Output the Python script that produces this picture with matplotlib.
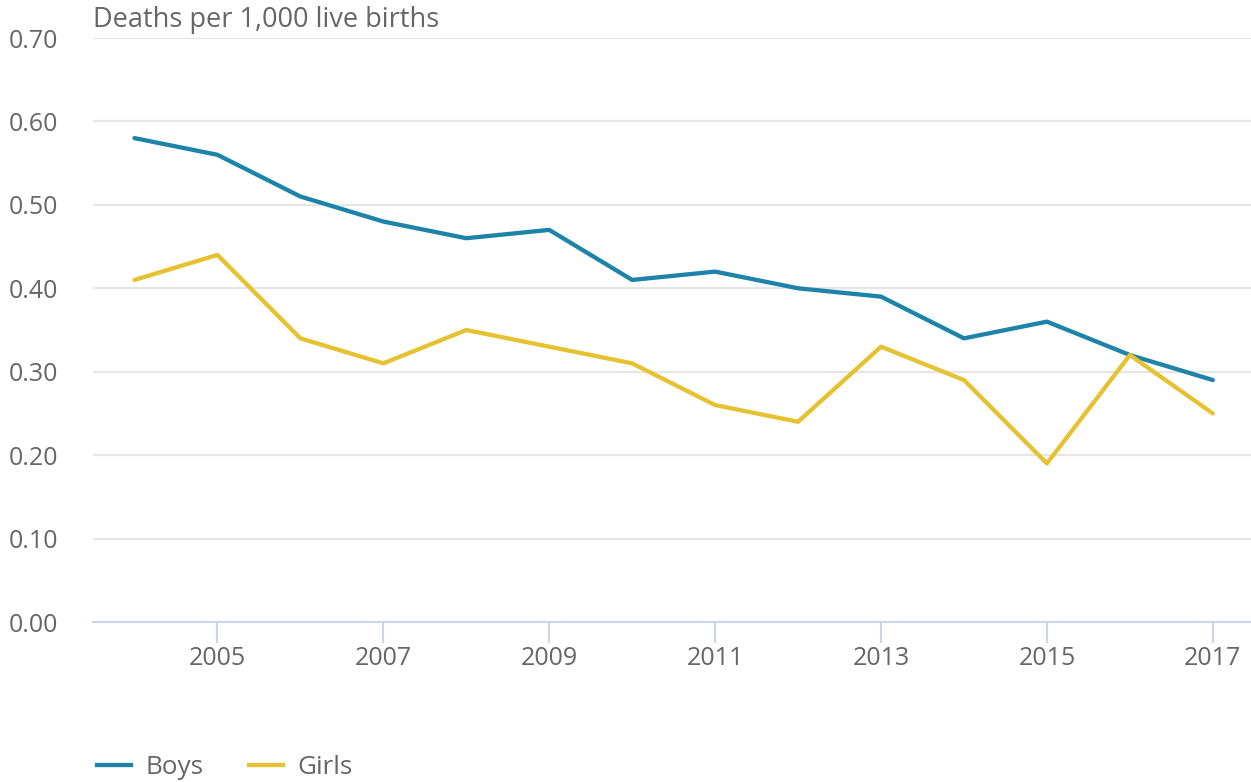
import matplotlib.pyplot as plt
from matplotlib.lines import Line2D

plt.rcParams['font.family'] = ['Open Sans', 'DejaVu Sans']

years = list(range(2004, 2018))
boys = [0.58, 0.56, 0.51, 0.48, 0.46, 0.47, 0.41, 0.42, 0.40, 0.39, 0.34, 0.36, 0.32, 0.29]
girls = [0.41, 0.44, 0.34, 0.31, 0.35, 0.33, 0.31, 0.26, 0.24, 0.33, 0.29, 0.19, 0.32, 0.25]
yticks = [0.0, 0.1, 0.2, 0.3, 0.4, 0.5, 0.6, 0.7]
xticks = [2005, 2007, 2009, 2011, 2013, 2015, 2017]

boys_col = '#1d83a9'
girls_col = '#e6c232'
text_col = '#666666'

fig = plt.figure(figsize=(12.51, 7.82), dpi=100)
ax = fig.add_axes([93 / 1251, 160 / 782, 1 - 93 / 1251, (622 - 38) / 782])

ax.plot(years, boys, color=boys_col, lw=3.1, solid_capstyle='round', solid_joinstyle='round', zorder=3)
ax.plot(years, girls, color=girls_col, lw=3.1, solid_capstyle='round', solid_joinstyle='round', zorder=3)

ax.set_xlim(2003.5, 2017.46)
ax.set_ylim(0, 0.7)
ax.set_yticks(yticks)
ax.set_yticklabels([f'{v:.2f}' for v in yticks])
ax.set_xticks(xticks)
ax.set_xticklabels([str(x) for x in xticks])

ax.grid(axis='y', color='#e6e6e6', lw=1.6)
ax.set_axisbelow(True)
for s in ['top', 'right', 'left']:
    ax.spines[s].set_visible(False)
ax.spines['bottom'].set_color('#ccd6eb')
ax.spines['bottom'].set_linewidth(1.5)

ax.tick_params(axis='y', length=0, pad=25, labelsize=18, labelcolor=text_col)
ax.tick_params(axis='x', length=15, width=1.5, color='#ccd6eb', pad=2, labelsize=18, labelcolor=text_col)

fig.text(93 / 1251, 1 - 20 / 782, 'Deaths per 1,000 live births', fontsize=19.5,
         color=text_col, va='center', ha='left')

handles = [Line2D([], [], color=boys_col, lw=3.1), Line2D([], [], color=girls_col, lw=3.1)]
fig.legend(handles, ['Boys', 'Girls'], loc='center left', bbox_to_anchor=(97 / 1251, 1 - 768 / 782),
           ncol=2, frameon=False, fontsize=18.8, labelcolor=text_col, handlelength=1.3,
           handletextpad=0.54, columnspacing=1.76, borderpad=0, borderaxespad=0)

fig.savefig('out.png', dpi=100)
